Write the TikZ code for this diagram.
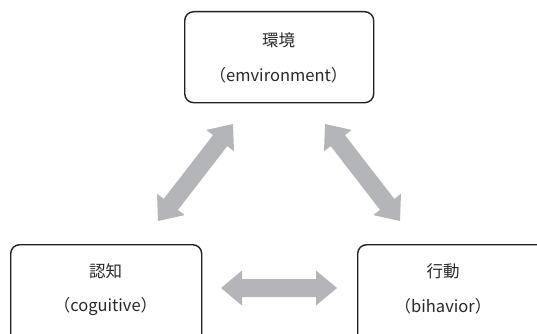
\documentclass[tikz,border=0pt]{standalone}
\usepackage{fontspec}
\setmainfont{Noto Sans CJK JP}
\usetikzlibrary{calc}
\definecolor{arrowgray}{HTML}{B4B5B8}
\definecolor{boxline}{HTML}{231F20}
\definecolor{txt}{HTML}{2A2627}
\tikzset{
  boxstyle/.style={draw=boxline, line width=1.4bp, rounded corners=9bp},
  label/.style={inner sep=0pt, text=txt, font=\fontsize{16.5bp}{19bp}\selectfont, anchor=center},
  arrowfill/.style={fill=arrowgray, draw=none}
}
\newcommand{\blockarrow}[2]{%
  \coordinate (ha) at ($(#1)!21bp!(#2)$);
  \coordinate (hb) at ($(#2)!21bp!(#1)$);
  \fill[arrowfill] (#1) -- ($(ha)!17.5bp!90:(#2)$) -- ($(ha)!9bp!90:(#2)$)
    -- ($(hb)!9bp!-90:(#1)$) -- ($(hb)!17.5bp!-90:(#1)$) -- (#2)
    -- ($(hb)!17.5bp!90:(#1)$) -- ($(hb)!9bp!90:(#1)$)
    -- ($(ha)!9bp!-90:(#2)$) -- ($(ha)!17.5bp!-90:(#2)$) -- cycle;
}
\begin{document}
\begin{tikzpicture}[x=1bp,y=1bp]
\useasboundingbox (0,0) rectangle (537,333);
\clip (0,0) rectangle (537,333);
% boxes
\node[boxstyle, minimum width=189bp, minimum height=91bp, anchor=north west] (env) at (184,322) {};
\node[boxstyle, minimum width=191bp, minimum height=110bp, anchor=north west] (cog) at (10,89) {};
\node[boxstyle, minimum width=200bp, minimum height=110bp, anchor=north west] (beh) at (357,89) {};
% texts
\node[label] (envj) at (278.5,293) {環境};
\node[label] (enve) at (278.5,258) {（emvironment）};
\node[label] (cogj) at (105.5,62) {認知};
\node[label] (coge) at (105.5,27) {（coguitive）};
\node[label] (behj) at (443,62) {行動};
\node[label] (behe) at (443,27) {（bihavior）};
% arrow end points
\coordinate (l1) at (158,112);
\coordinate (l2) at (233,209);
\coordinate (r1) at (325,209);
\coordinate (r2) at (400,112);
\coordinate (b1) at (221,45);
\coordinate (b2) at (337,45);
\blockarrow{l1}{l2}
\blockarrow{r1}{r2}
\blockarrow{b1}{b2}
\end{tikzpicture}
\end{document}
